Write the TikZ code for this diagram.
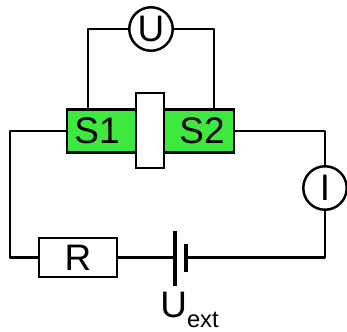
\documentclass[tikz,border=0pt]{standalone}
\usepackage{fontspec}
\setmainfont{Liberation Sans}
\usetikzlibrary{positioning}
\definecolor{contactgreen}{RGB}{62,232,62}
\tikzset{
    wire/.style={line width=1.4pt, line cap=round, line join=round},
    meter/.style={circle, draw, line width=1.4pt, fill=white, minimum size=0.87cm, inner sep=0pt, font=\fontsize{21}{22}\selectfont},
    contact/.style={rectangle, draw, line width=1.4pt, fill=contactgreen, minimum height=0.86cm, inner sep=0pt},
    bigtext/.style={inner sep=0pt, font=\fontsize{21}{22}\selectfont}
}
\begin{document}
\begin{tikzpicture}[x=0.02cm, y=-0.02cm]
\useasboundingbox (0,0) rectangle (347,331);

% Meters
\node[meter] (voltmeter) at (151,29) {U};
\node[meter] (amperemeter) at (325,188) {I};

% Contacts and the sample between them
\node[contact, minimum width=1.39cm] (sone) at (101.5,131) {};
\node[contact, minimum width=1.40cm] (stwo) at (199,131) {};
\node[rectangle, draw, line width=1.4pt, fill=white, minimum width=0.56cm, minimum height=1.5cm, inner sep=0pt] (sample) at (150,130.5) {};
\node[bigtext] (soneText) at (97,131) {S1};
\node[bigtext] (stwoText) at (202,131) {S2};

% Resistor
\node[rectangle, draw, line width=1.4pt, minimum width=1.56cm, minimum height=0.78cm, inner sep=0pt, font=\fontsize{21}{22}\selectfont] (resistor) at (78,257.5) {R};

% Battery plates
\coordinate (plateLong) at (175,257.5);
\coordinate (plateShort) at (186,257.5);
\draw[line width=2.1pt] (175,231) -- (175,286);
\draw[line width=2.1pt] (186,244) -- (186,272);
\node[bigtext, anchor=base west] (supply) at (160,317) {U\raisebox{-6.2pt}{\fontsize{13.5}{14}\selectfont ext}};

% Tap points
\coordinate (tapOne) at (88,109);
\coordinate (tapTwo) at (214,109);
\coordinate (cornerLeft) at (10,131);
\coordinate (cornerRight) at (325,131);

% Wires
\draw[wire] (voltmeter.west) -| (tapOne);
\draw[wire] (voltmeter.east) -| (tapTwo);
\draw[wire] (sone.west) -- (cornerLeft) |- (resistor.west);
\draw[wire] (resistor.east) -- (plateLong);
\draw[wire] (plateShort) -| (amperemeter.south);
\draw[wire] (stwo.east) -- (cornerRight) -- (amperemeter.north);
\end{tikzpicture}
\end{document}
